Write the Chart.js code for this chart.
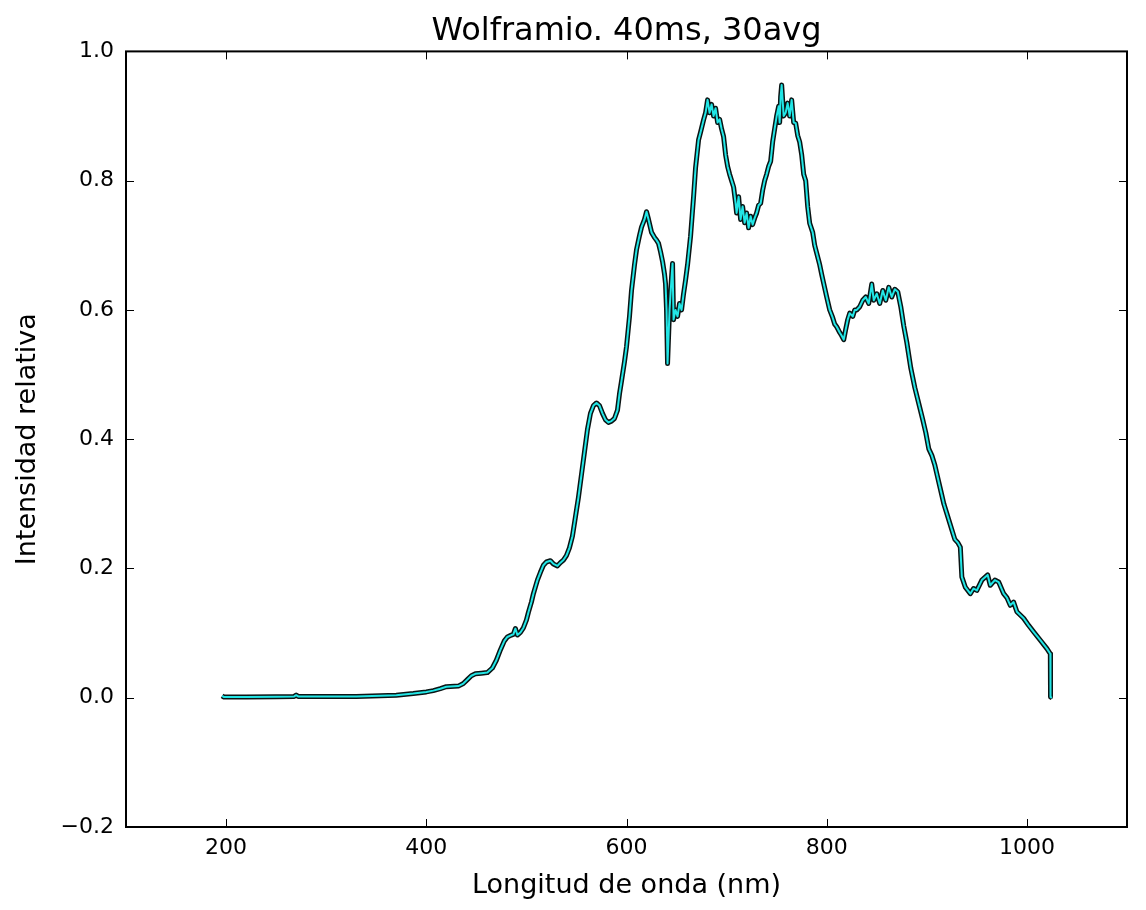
<!DOCTYPE html>
<html>
<head>
<meta charset="utf-8">
<title>Wolframio. 40ms, 30avg</title>
<script src="https://cdn.jsdelivr.net/npm/chart.js@4.4.1/dist/chart.umd.min.js"></script>
<style>
    html, body { margin: 0; padding: 0; background: #ffffff; }
    #myChart { display: block; }
</style>
</head>
<body>
<canvas id="myChart" width="1146" height="910"></canvas>
<script>
const chartTitle = 'Wolframio. 40ms, 30avg';
const xTitle = 'Longitud de onda (nm)';
const yTitle = 'Intensidad relativa';

const xTicks = [200, 400, 600, 800, 1000];

// wavelength (nm)
const wavelength = [
    196, 198, 220, 250, 268, 270, 272, 300, 330, 354, 370, 387, 400, 407, 414, 420,
    432, 437, 441, 445, 449, 455, 461, 466, 470, 474, 478, 481, 485, 487, 489, 491,
    494, 497, 500, 502, 505, 507, 511, 514, 517, 520, 524, 527, 531, 534, 537, 540,
    543, 546, 549, 552, 555, 558, 561, 564, 567, 570, 573, 576, 579, 582, 585, 588,
    591, 593, 595, 598, 600, 603, 605, 608, 610, 613, 615, 618, 620, 622, 625, 628,
    630, 632, 634, 636, 638, 639, 640, 641, 643, 645, 646, 647, 649, 651, 653, 655,
    657, 659, 661, 664, 667, 669, 672, 674, 677, 679, 681, 683, 685, 687, 689, 691,
    693, 695, 697, 699, 701, 703, 705, 707, 709, 710, 712, 714, 716, 718, 720, 722,
    724, 726, 728, 730, 732, 734, 736, 738, 740, 742, 744, 746, 748, 750, 752, 753,
    754, 755, 757, 759, 761, 763, 765, 767, 769, 771, 773, 775, 777, 779, 781, 783,
    786, 788, 790, 793, 795, 797, 800, 803, 806, 808, 810, 813, 815, 817, 819, 821,
    823, 826, 828, 830, 833, 836, 839, 842, 845, 847, 850, 853, 856, 859, 862, 865,
    868, 871, 874, 877, 880, 884, 888, 892, 896, 899, 902, 905, 908, 911, 914, 917,
    920, 923, 926, 928, 931, 933.5, 935, 938.5, 943.5, 946.7, 950, 955, 960.8, 963.4, 968, 971.8,
    976.8, 980, 983.4, 986.7, 990, 996.7, 1001.7, 1006.7, 1013.4, 1020, 1023.4, 1023.6, 1025
];

// relative intensity at each wavelength
const intensity = [
    0.003, 0.001, 0.001, 0.0015, 0.002, 0.004, 0.002, 0.002, 0.002, 0.003, 0.004, 0.0065, 0.009, 0.011, 0.014, 0.017,
    0.018, 0.022, 0.028, 0.034, 0.037, 0.038, 0.039, 0.046, 0.058, 0.074, 0.088, 0.094, 0.097, 0.098, 0.107, 0.097,
    0.101, 0.108, 0.12, 0.132, 0.148, 0.161, 0.182, 0.194, 0.205, 0.21, 0.212, 0.207, 0.204, 0.209, 0.213, 0.22,
    0.232, 0.25, 0.28, 0.31, 0.345, 0.38, 0.415, 0.44, 0.452, 0.456, 0.452, 0.44, 0.43, 0.426, 0.428, 0.432,
    0.445, 0.47, 0.49, 0.52, 0.543, 0.59, 0.63, 0.67, 0.693, 0.715, 0.728, 0.74, 0.752, 0.74, 0.72, 0.712,
    0.708, 0.703, 0.69, 0.675, 0.655, 0.64, 0.6, 0.517, 0.6, 0.65, 0.672, 0.585, 0.6, 0.59, 0.61, 0.6,
    0.625, 0.646, 0.67, 0.714, 0.775, 0.82, 0.863, 0.875, 0.894, 0.905, 0.925, 0.905, 0.918, 0.9, 0.912, 0.89,
    0.895, 0.88, 0.868, 0.84, 0.822, 0.81, 0.8, 0.79, 0.765, 0.75, 0.775, 0.74, 0.76, 0.735, 0.75, 0.727,
    0.745, 0.732, 0.742, 0.75, 0.762, 0.765, 0.785, 0.8, 0.81, 0.822, 0.83, 0.86, 0.88, 0.9, 0.915, 0.89,
    0.93, 0.948, 0.9, 0.905, 0.92, 0.9, 0.925, 0.89, 0.889, 0.87, 0.86, 0.84, 0.81, 0.8, 0.76, 0.734,
    0.72, 0.7, 0.688, 0.67, 0.655, 0.641, 0.62, 0.6, 0.588, 0.578, 0.574, 0.565, 0.56, 0.554, 0.57, 0.585,
    0.595, 0.59, 0.6, 0.6, 0.605, 0.615, 0.62, 0.61, 0.64, 0.615, 0.625, 0.61, 0.63, 0.615, 0.635, 0.62,
    0.632, 0.628, 0.605, 0.575, 0.55, 0.51, 0.48, 0.455, 0.43, 0.41, 0.385, 0.375, 0.36, 0.34, 0.32, 0.3,
    0.285, 0.27, 0.255, 0.245, 0.24, 0.233, 0.187, 0.171, 0.161, 0.169, 0.166, 0.182, 0.19, 0.174, 0.182, 0.179,
    0.161, 0.155, 0.143, 0.148, 0.133, 0.123, 0.112, 0.102, 0.089, 0.076, 0.068, 0.001, 0.0
];

const points = wavelength.map((w, i) => ({ x: w, y: intensity[i] }));

// frame + inward tick marks on all four sides (matplotlib classic look)
const framePlugin = {
    id: 'frame',
    afterDatasetsDraw(chart) {
        const ctx = chart.ctx;
        const area = chart.chartArea;
        const xs = chart.scales.x;
        const ys = chart.scales.y;
        const len = 8;
        ctx.save();
        ctx.strokeStyle = '#000000';
        ctx.lineWidth = 1;
        ctx.beginPath();
        xs.ticks.forEach(t => {
            const px = Math.round(xs.getPixelForValue(t.value)) + 0.5;
            ctx.moveTo(px, area.bottom);
            ctx.lineTo(px, area.bottom - len);
            ctx.moveTo(px, area.top);
            ctx.lineTo(px, area.top + len);
        });
        ys.ticks.forEach(t => {
            const py = Math.round(ys.getPixelForValue(t.value)) + 0.5;
            ctx.moveTo(area.left, py);
            ctx.lineTo(area.left + len, py);
            ctx.moveTo(area.right, py);
            ctx.lineTo(area.right - len, py);
        });
        ctx.stroke();
        ctx.lineWidth = 2;
        ctx.strokeRect(area.left, area.top, area.right - area.left, area.bottom - area.top);
        ctx.restore();
    }
};

Chart.defaults.font.family = '"DejaVu Sans", sans-serif';
Chart.defaults.color = '#000000';

const ctx = document.getElementById('myChart').getContext('2d');
const chart = new Chart(ctx, {
    type: 'line',
    data: {
        datasets: [{
            data: points,
            borderColor: '#22e6e6',
            borderWidth: 2,
            pointRadius: 0,
            tension: 0,
            borderJoinStyle: 'round',
            order: 1
        }, {
            data: points,
            borderColor: '#0a1414',
            borderWidth: 5,
            pointRadius: 0,
            tension: 0,
            borderJoinStyle: 'round',
            order: 2
        }]
    },
    options: {
        responsive: false,
        animation: false,
        devicePixelRatio: 1,
        layout: {
            padding: { top: 0, right: 19, bottom: 0, left: 0 }
        },
        plugins: {
            legend: { display: false },
            tooltip: { enabled: false },
            title: {
                display: true,
                fullSize: false,
                text: chartTitle,
                font: { size: 32, weight: 'normal' },
                padding: { top: 12, bottom: 1 }
            }
        },
        scales: {
            x: {
                type: 'linear',
                min: 100,
                max: 1100,
                grid: { display: false, drawTicks: false },
                border: { display: false },
                afterBuildTicks: scale => {
                    scale.ticks = xTicks.map(v => ({ value: v }));
                },
                afterFit: scale => {
                    scale.height = 83;
                },
                ticks: {
                    font: { size: 22 },
                    padding: 8,
                    maxRotation: 0,
                    callback: value => String(value)
                },
                title: {
                    display: true,
                    text: xTitle,
                    font: { size: 27 },
                    padding: { top: 0, bottom: 8 }
                }
            },
            y: {
                type: 'linear',
                min: -0.2,
                max: 1.0,
                grid: { display: false, drawTicks: false },
                border: { display: false },
                afterFit: scale => {
                    scale.width = 126;
                },
                ticks: {
                    stepSize: 0.2,
                    font: { size: 22 },
                    padding: 12,
                    callback: value => {
                        if (Math.abs(value) < 1e-9) return '0.0';
                        return value.toFixed(1).replace('-', '\u2212');
                    }
                },
                title: {
                    display: true,
                    text: yTitle,
                    font: { size: 27 },
                    padding: { top: 12, bottom: 0 }
                }
            }
        }
    },
    plugins: [framePlugin]
});
</script>
</body>
</html>
